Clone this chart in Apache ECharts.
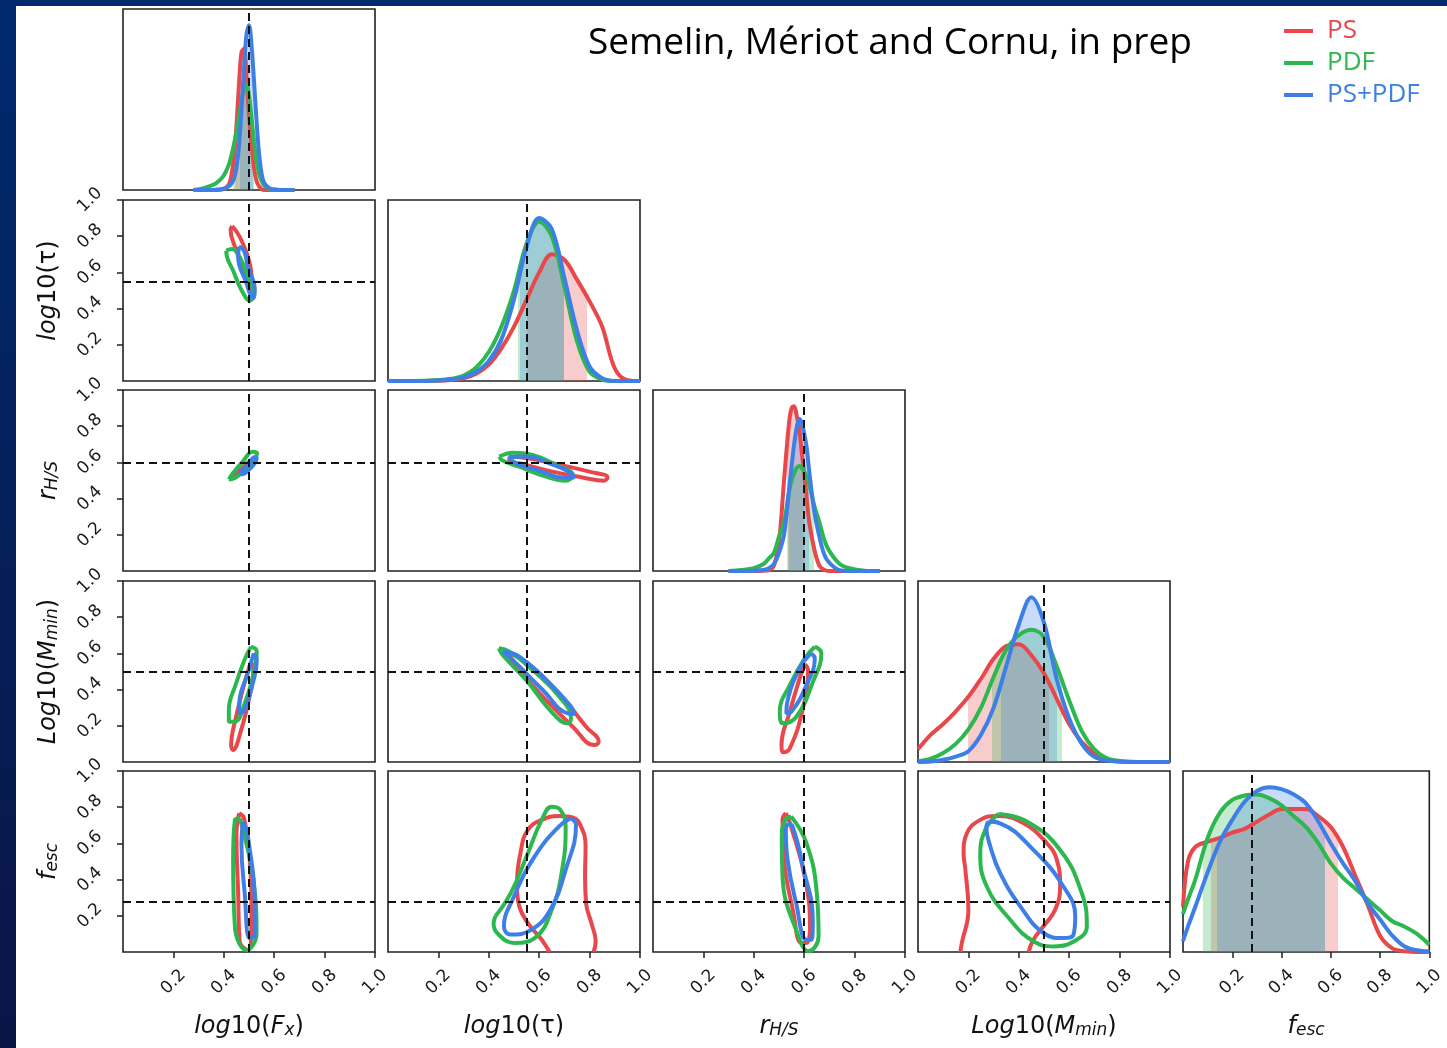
<!DOCTYPE html>
<html><head><meta charset="utf-8">
<script src="https://cdn.jsdelivr.net/npm/echarts@6/dist/echarts.min.js"></script>
<style>html,body{margin:0;padding:0;background:#fff}#c{width:1447px;height:1048px}</style>
</head><body><div id="c"></div><script>
// ---------- data ----------
const seriesNames = ['PS', 'PDF', 'PS+PDF'];
const colors = ['#e8484b', '#2db84f', '#3d7fe6'];
const truth = [0.5, 0.55, 0.6, 0.5, 0.275];
const tickValues = [0.2, 0.4, 0.6, 0.8, 1.0];
const axisNames = [
  '{i|log}{n|10(}{i|F}{s|x}{n|)}',
  '{i|log}{n|10(τ)}',
  '{i|r}{s|H/S}',
  '{i|Log}{n|10(}{i|M}{s|min}{n|)}',
  '{i|f}{s|esc}'
];

// 1D marginals (x grid + heights as fraction of panel)
const fxX    = [0.28,0.32,0.36,0.38,0.40,0.42,0.43,0.44,0.45,0.46,0.47,0.48,0.49,0.50,0.51,0.52,0.53,0.54,0.55,0.56,0.58,0.60,0.64,0.68];
const fxPS   = [0,0,0,0,0.005,0.03,0.08,0.18,0.35,0.58,0.76,0.78,0.63,0.42,0.25,0.12,0.05,0.02,0.005,0,0,0,0,0];
const fxPDF  = [0,0.01,0.03,0.05,0.08,0.14,0.19,0.25,0.32,0.40,0.49,0.56,0.58,0.52,0.40,0.27,0.16,0.09,0.05,0.025,0.008,0.003,0,0];
const fxBoth = [0,0,0,0.003,0.008,0.02,0.035,0.06,0.12,0.24,0.44,0.66,0.86,0.91,0.80,0.60,0.38,0.20,0.09,0.04,0.01,0.003,0,0];

const tauX    = [0,0.1,0.2,0.25,0.3,0.35,0.4,0.45,0.5,0.55,0.6,0.65,0.7,0.75,0.8,0.85,0.9,0.95,1.0];
const tauPS   = [0,0,0.002,0.006,0.015,0.04,0.09,0.18,0.30,0.45,0.60,0.70,0.67,0.56,0.44,0.30,0.07,0.005,0];
const tauPDF  = [0,0,0.005,0.012,0.03,0.075,0.16,0.30,0.50,0.76,0.88,0.80,0.52,0.22,0.05,0.008,0,0,0];
const tauBoth = [0,0,0.003,0.008,0.02,0.05,0.11,0.23,0.45,0.74,0.90,0.84,0.57,0.28,0.08,0.015,0,0,0];

const rX    = [0.3,0.35,0.4,0.44,0.46,0.48,0.50,0.52,0.54,0.55,0.56,0.57,0.58,0.59,0.60,0.61,0.62,0.64,0.66,0.68,0.70,0.74,0.78,0.84,0.9];
const rPS   = [0,0,0,0.002,0.005,0.03,0.16,0.50,0.82,0.90,0.91,0.86,0.79,0.66,0.54,0.40,0.27,0.12,0.03,0.005,0,0,0,0,0];
const rPDF  = [0,0.005,0.015,0.04,0.07,0.10,0.19,0.27,0.44,0.50,0.54,0.57,0.58,0.57,0.55,0.52,0.48,0.36,0.27,0.17,0.11,0.04,0.015,0.002,0];
const rBoth = [0,0,0.002,0.006,0.015,0.04,0.10,0.20,0.45,0.58,0.70,0.79,0.84,0.82,0.76,0.68,0.55,0.33,0.19,0.09,0.045,0.005,0,0,0];

const mX    = [0,0.05,0.1,0.15,0.2,0.25,0.3,0.35,0.4,0.45,0.5,0.55,0.6,0.65,0.7,0.75,0.8,0.85,0.9,0.95,1.0];
const mPS   = [0.07,0.15,0.21,0.28,0.36,0.46,0.57,0.64,0.65,0.59,0.49,0.35,0.21,0.11,0.05,0.015,0.004,0,0,0,0];
const mPDF  = [0.004,0.018,0.05,0.10,0.18,0.30,0.47,0.62,0.70,0.73,0.69,0.53,0.34,0.17,0.07,0.02,0.006,0.001,0,0,0];
const mBoth = [0,0.003,0.012,0.03,0.06,0.15,0.30,0.53,0.76,0.91,0.77,0.46,0.24,0.10,0.028,0.008,0.002,0,0,0,0];

const fX    = [0,0.02,0.05,0.1,0.15,0.2,0.25,0.3,0.35,0.4,0.45,0.5,0.55,0.6,0.65,0.7,0.75,0.8,0.85,0.9,0.95,1.0];
const fPS   = [0.25,0.50,0.58,0.61,0.63,0.66,0.68,0.72,0.76,0.79,0.79,0.79,0.75,0.69,0.58,0.42,0.26,0.09,0.02,0.004,0,0];
const fPDF  = [0.21,0.29,0.40,0.63,0.77,0.84,0.865,0.87,0.85,0.81,0.75,0.69,0.60,0.49,0.41,0.35,0.29,0.23,0.17,0.14,0.10,0.04];
const fBoth = [0.06,0.14,0.25,0.44,0.61,0.73,0.83,0.89,0.91,0.90,0.87,0.82,0.72,0.60,0.49,0.39,0.27,0.18,0.09,0.03,0.01,0.004];

// credible intervals [lo, hi] per series (PS, PDF, PS+PDF)
const fxHpd  = [[0.445,0.505],[0.435,0.515],[0.465,0.52]];
const tauHpd = [[0.55,0.79],[0.515,0.70],[0.525,0.70]];
const rHpd   = [[0.53,0.60],[0.535,0.64],[0.54,0.62]];
const mHpd   = [[0.20,0.52],[0.295,0.57],[0.33,0.55]];
const fHpd   = [[0.112,0.63],[0.083,0.578],[0.139,0.578]];

// 2D contours [x, y]
const tauFx_PS   = [[0.433,0.856],[0.463,0.797],[0.503,0.65],[0.512,0.52],[0.505,0.495],[0.49,0.576],[0.444,0.742],[0.427,0.834],[0.433,0.856]];
const tauFx_PDF  = [[0.41,0.72],[0.432,0.729],[0.463,0.685],[0.495,0.575],[0.519,0.486],[0.503,0.444],[0.47,0.503],[0.436,0.613],[0.412,0.69],[0.41,0.72]];
const tauFx_Both = [[0.46,0.742],[0.48,0.72],[0.496,0.63],[0.523,0.503],[0.516,0.457],[0.505,0.48],[0.49,0.54],[0.457,0.687],[0.46,0.742]];

const rFx_PS   = [[0.432,0.52],[0.45,0.54],[0.48,0.578],[0.51,0.615],[0.52,0.62],[0.517,0.605],[0.49,0.57],[0.455,0.538],[0.435,0.518],[0.432,0.52]];
const rFx_PDF  = [[0.42,0.506],[0.436,0.54],[0.475,0.604],[0.515,0.659],[0.532,0.65],[0.521,0.613],[0.482,0.558],[0.442,0.512],[0.42,0.506]];
const rFx_Both = [[0.462,0.535],[0.475,0.56],[0.5,0.595],[0.522,0.628],[0.53,0.625],[0.525,0.6],[0.5,0.56],[0.475,0.535],[0.462,0.535]];

const mFx_PS   = [[0.508,0.554],[0.517,0.508],[0.502,0.361],[0.469,0.177],[0.436,0.066],[0.429,0.094],[0.449,0.25],[0.482,0.435],[0.508,0.554]];
const mFx_PDF  = [[0.508,0.637],[0.531,0.61],[0.521,0.508],[0.488,0.343],[0.442,0.223],[0.42,0.223],[0.42,0.287],[0.449,0.435],[0.482,0.564],[0.508,0.637]];
const mFx_Both = [[0.519,0.60],[0.531,0.564],[0.515,0.435],[0.482,0.287],[0.462,0.269],[0.462,0.324],[0.495,0.49],[0.519,0.60]];

const fFx_PS   = [[0.461,0.766],[0.48,0.74],[0.503,0.508],[0.51,0.232],[0.496,0.011],[0.463,0.057],[0.457,0.324],[0.45,0.656],[0.461,0.766]];
const fFx_PDF  = [[0.463,0.739],[0.483,0.637],[0.516,0.416],[0.53,0.103],[0.49,0.011],[0.444,0.14],[0.437,0.508],[0.444,0.729],[0.463,0.739]];
const fFx_Both = [[0.476,0.72],[0.496,0.637],[0.523,0.232],[0.523,0.094],[0.503,0.076],[0.483,0.324],[0.47,0.6],[0.476,0.72]];

const rTau_PS   = [[0.482,0.632],[0.561,0.622],[0.667,0.591],[0.799,0.549],[0.871,0.517],[0.858,0.499],[0.772,0.517],[0.653,0.549],[0.535,0.591],[0.482,0.61],[0.482,0.632]];
const rTau_PDF  = [[0.442,0.632],[0.495,0.654],[0.574,0.641],[0.667,0.586],[0.733,0.53],[0.706,0.499],[0.627,0.521],[0.521,0.576],[0.455,0.61],[0.442,0.632]];
const rTau_Both = [[0.479,0.628],[0.548,0.632],[0.64,0.595],[0.726,0.543],[0.739,0.517],[0.693,0.517],[0.601,0.554],[0.508,0.595],[0.479,0.628]];

const mTau_PS   = [[0.469,0.6],[0.535,0.564],[0.667,0.398],[0.786,0.195],[0.836,0.112],[0.819,0.094],[0.733,0.195],[0.601,0.38],[0.495,0.554],[0.469,0.6]];
const mTau_PDF  = [[0.44,0.628],[0.482,0.61],[0.574,0.508],[0.68,0.361],[0.726,0.241],[0.713,0.214],[0.654,0.269],[0.548,0.453],[0.455,0.591],[0.44,0.628]];
const mTau_Both = [[0.455,0.61],[0.521,0.582],[0.627,0.453],[0.726,0.306],[0.739,0.265],[0.713,0.269],[0.614,0.398],[0.495,0.564],[0.455,0.61]];

const mR_PS   = [[0.602,0.54],[0.615,0.508],[0.595,0.297],[0.543,0.075],[0.516,0.054],[0.51,0.094],[0.543,0.278],[0.582,0.462],[0.602,0.54]];
const mR_PDF  = [[0.642,0.637],[0.668,0.6],[0.635,0.444],[0.569,0.25],[0.516,0.214],[0.503,0.278],[0.543,0.425],[0.602,0.573],[0.642,0.637]];
const mR_Both = [[0.626,0.6],[0.642,0.573],[0.609,0.425],[0.549,0.278],[0.529,0.269],[0.536,0.352],[0.582,0.518],[0.626,0.6]];

const fTau_PS   = [[0.641,0],[0.61,0.068],[0.555,0.16],[0.521,0.252],[0.512,0.362],[0.528,0.564],[0.555,0.675],[0.61,0.73],[0.678,0.752],[0.732,0.744],[0.766,0.693],[0.784,0.583],[0.782,0.417],[0.786,0.27],[0.807,0.16],[0.824,0.059],[0.816,0]];
const fTau_PDF  = [[0.426,0.197],[0.487,0.325],[0.555,0.546],[0.61,0.73],[0.65,0.803],[0.684,0.785],[0.705,0.693],[0.691,0.454],[0.65,0.233],[0.582,0.077],[0.501,0.05],[0.433,0.105],[0.419,0.16],[0.426,0.197]];
const fTau_Both = [[0.725,0.739],[0.746,0.702],[0.705,0.454],[0.644,0.233],[0.569,0.123],[0.487,0.096],[0.46,0.142],[0.494,0.289],[0.582,0.528],[0.678,0.693],[0.725,0.739]];

const fR_PS   = [[0.527,0.767],[0.548,0.693],[0.602,0.417],[0.623,0.142],[0.609,0.05],[0.589,0.05],[0.555,0.233],[0.52,0.509],[0.514,0.73],[0.527,0.767]];
const fR_PDF  = [[0.548,0.748],[0.609,0.601],[0.65,0.325],[0.657,0.086],[0.616,0.004],[0.582,0.068],[0.514,0.417],[0.511,0.638],[0.525,0.73],[0.548,0.748]];
const fR_Both = [[0.534,0.711],[0.554,0.693],[0.595,0.472],[0.634,0.178],[0.63,0.068],[0.609,0.068],[0.568,0.27],[0.534,0.509],[0.527,0.674],[0.534,0.711]];

const fM_PS   = [[0.168,0],[0.174,0.05],[0.2,0.233],[0.188,0.454],[0.181,0.546],[0.194,0.656],[0.247,0.73],[0.313,0.752],[0.419,0.711],[0.511,0.601],[0.551,0.509],[0.564,0.362],[0.544,0.233],[0.498,0.142],[0.458,0.068],[0.439,0]];
const fM_PDF  = [[0.32,0.763],[0.432,0.721],[0.564,0.564],[0.65,0.325],[0.67,0.142],[0.63,0.068],[0.538,0.031],[0.458,0.059],[0.366,0.178],[0.273,0.362],[0.247,0.546],[0.267,0.675],[0.306,0.748],[0.32,0.763]];
const fM_Both = [[0.28,0.721],[0.326,0.711],[0.458,0.564],[0.577,0.362],[0.624,0.197],[0.617,0.096],[0.577,0.077],[0.498,0.105],[0.406,0.252],[0.326,0.436],[0.287,0.583],[0.271,0.693],[0.28,0.721]];

// ---------- assembly ----------
const diag = [
  {x: fxX,  y: [fxPS, fxPDF, fxBoth],    hpd: fxHpd},
  {x: tauX, y: [tauPS, tauPDF, tauBoth], hpd: tauHpd},
  {x: rX,   y: [rPS, rPDF, rBoth],       hpd: rHpd},
  {x: mX,   y: [mPS, mPDF, mBoth],       hpd: mHpd},
  {x: fX,   y: [fPS, fPDF, fBoth],       hpd: fHpd}
];
const contours = {
  '1,0': [tauFx_PS, tauFx_PDF, tauFx_Both],
  '2,0': [rFx_PS, rFx_PDF, rFx_Both],
  '3,0': [mFx_PS, mFx_PDF, mFx_Both],
  '4,0': [fFx_PS, fFx_PDF, fFx_Both],
  '2,1': [rTau_PS, rTau_PDF, rTau_Both],
  '3,1': [mTau_PS, mTau_PDF, mTau_Both],
  '4,1': [fTau_PS, fTau_PDF, fTau_Both],
  '3,2': [mR_PS, mR_PDF, mR_Both],
  '4,2': [fR_PS, fR_PDF, fR_Both],
  '4,3': [fM_PS, fM_PDF, fM_Both]
};

const colLeft = [123, 388, 653, 918, 1183];
const rowTop = [9, 200, 390, 581, 771];
const PW = 252, PH = 181;

const nameRich = {
  i: {fontFamily: 'DejaVu Sans', fontStyle: 'italic', fontSize: 24, color: '#111'},
  n: {fontFamily: 'DejaVu Sans', fontSize: 24, color: '#111'},
  s: {fontFamily: 'DejaVu Sans', fontStyle: 'italic', fontSize: 17, color: '#111', verticalAlign: 'bottom', lineHeight: 15}
};
const tickRich = {t: {fontFamily: 'DejaVu Sans', fontSize: 17, color: '#1a1a1a'}};

const grids = [], xAxes = [], yAxes = [], series = [], visualMaps = [];
let gi = 0;
for (let r = 0; r < 5; r++) {
  for (let c = 0; c <= r; c++) {
    grids.push({left: colLeft[c], top: rowTop[r], width: PW, height: PH,
      show: true, borderColor: '#222', borderWidth: 1.6, backgroundColor: '#fff'});
    const bottom = (r === 4), left = (c === 0 && r > 0);
    xAxes.push({
      gridIndex: gi, type: 'value', min: 0, max: 1,
      axisLine: {show: false}, splitLine: {show: false},
      axisTick: {show: bottom, customValues: tickValues, length: 6, lineStyle: {color: '#222', width: 1.5}},
      axisLabel: {show: bottom, customValues: tickValues, rotate: 45, align: 'center', verticalAlign: 'middle',
        margin: 30, fontSize: 17, fontFamily: 'DejaVu Sans', color: '#1a1a1a',
        formatter: v => '{t|' + v.toFixed(1) + '}', rich: tickRich},
      name: bottom ? axisNames[c] : '', nameLocation: 'middle', nameGap: 63,
      nameTextStyle: {rich: nameRich}
    });
    yAxes.push({
      gridIndex: gi, type: 'value', min: 0, max: 1,
      axisLine: {show: false}, splitLine: {show: false},
      axisTick: {show: left, customValues: tickValues, length: 6, lineStyle: {color: '#222', width: 1.5}},
      axisLabel: {show: left, customValues: tickValues, rotate: 45, align: 'center', verticalAlign: 'middle',
        margin: 33, fontSize: 17, fontFamily: 'DejaVu Sans', color: '#1a1a1a',
        formatter: v => '{t|' + v.toFixed(1) + '}', rich: tickRich},
      name: left ? axisNames[r] : '', nameLocation: 'middle', nameGap: 62, nameRotate: 90,
      nameTextStyle: {rich: nameRich}
    });
    if (r === c) {
      const d = diag[r];
      for (let k = 0; k < 3; k++) {
        const pts = d.x.map((x, j) => [x, d.y[k][j]]);
        series.push({type: 'line', name: seriesNames[k], xAxisIndex: gi, yAxisIndex: gi, data: pts,
          symbol: 'none', smooth: 0.35, lineStyle: {color: colors[k], width: 4}, itemStyle: {color: colors[k]}, z: 2});
        series.push({type: 'line', name: seriesNames[k] + ' interval', xAxisIndex: gi, yAxisIndex: gi, data: pts,
          symbol: 'none', smooth: 0.35, lineStyle: {width: 0}, areaStyle: {opacity: 0.28}, z: 2});
        visualMaps.push({type: 'piecewise', show: false, dimension: 0, seriesIndex: series.length - 1,
          pieces: [{gte: d.hpd[k][0], lte: d.hpd[k][1], color: colors[k]}],
          outOfRange: {color: 'rgba(255,255,255,0)'}});
      }
      series.push({type: 'line', xAxisIndex: gi, yAxisIndex: gi, data: [], z: 5,
        markLine: {silent: true, symbol: ['none', 'none'], label: {show: false}, animation: false,
          lineStyle: {color: '#111', type: [8, 5], width: 2}, data: [{xAxis: truth[c]}]}});
    } else {
      series.push({type: 'line', xAxisIndex: gi, yAxisIndex: gi, data: [], z: 1,
        markLine: {silent: true, symbol: ['none', 'none'], label: {show: false}, animation: false,
          lineStyle: {color: '#111', type: [8, 5], width: 2}, data: [{xAxis: truth[c]}, {yAxis: truth[r]}]}});
      const cs = contours[r + ',' + c];
      for (let k = 0; k < 3; k++) {
        series.push({type: 'line', name: seriesNames[k], xAxisIndex: gi, yAxisIndex: gi, data: cs[k],
          symbol: 'none', smooth: 0.45, lineStyle: {color: colors[k], width: 4}, itemStyle: {color: colors[k]}, z: 3});
      }
    }
    gi++;
  }
}

const chart = echarts.init(document.getElementById('c'), null, {renderer: 'canvas'});
chart.setOption({
  animation: false,
  backgroundColor: '#fff',
  title: {text: 'Semelin, Mériot and Cornu, in prep', left: 583, top: 20,
    textStyle: {fontFamily: 'Open Sans', fontSize: 37, fontWeight: 'normal', color: '#000'}},
  legend: {orient: 'vertical', left: 1279, top: 12, icon: 'rect', itemWidth: 29, itemHeight: 4, itemGap: 4,
    textStyle: {fontFamily: 'Open Sans', fontSize: 26, lineHeight: 28, padding: [0, 0, 0, 9]},
    data: seriesNames.map((n, k) => ({name: n, textStyle: {color: colors[k]}}))},
  graphic: [
    {type: 'rect', left: 0, top: 0, shape: {width: 16, height: 1048}, z: -1,
      style: {fill: new echarts.graphic.LinearGradient(0, 0, 0, 1, [{offset: 0, color: '#002a6e'}, {offset: 1, color: '#0a1546'}])}},
    {type: 'rect', left: 0, top: 0, shape: {width: 1447, height: 6}, z: -1, style: {fill: '#002a6e'}}
  ],
  grid: grids, xAxis: xAxes, yAxis: yAxes, visualMap: visualMaps, series: series
});
</script></body></html>
